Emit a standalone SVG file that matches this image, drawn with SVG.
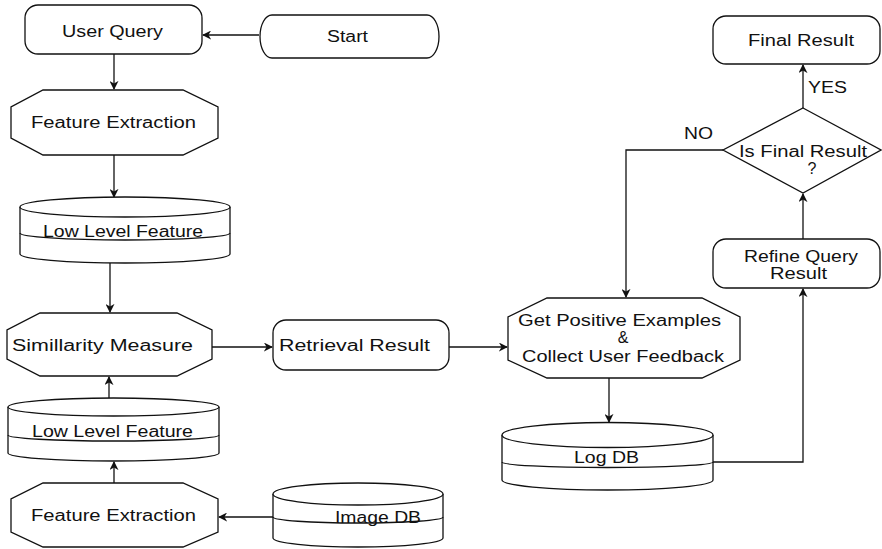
<svg xmlns="http://www.w3.org/2000/svg" width="882" height="549" viewBox="0 0 882 549">
<defs>
<marker id="ah" viewBox="0 0 10 10" refX="9" refY="5" markerWidth="9" markerHeight="9" markerUnits="userSpaceOnUse" orient="auto">
<path d="M0,0 L10,5 L0,10 L3,5 Z" fill="#111"/>
</marker>
<style>
.s{fill:#fff;stroke:#111;stroke-width:1.3}
.c{fill:none;stroke:#111;stroke-width:1.3}
.a{marker-end:url(#ah)}
text{font-family:"Liberation Sans",Arial,sans-serif;font-size:16px;fill:#111}
.m{text-anchor:middle}
</style>
</defs>
<rect width="882" height="549" fill="#fff"/>

<g id="connectors">
<path class="c a" d="M259,35 L203,35"/>
<path class="c a" d="M114,54 L114,89"/>
<path class="c a" d="M114,155 L114,197"/>
<path class="c a" d="M110,263 L110,312"/>
<path class="c a" d="M109,398 L109,377"/>
<path class="c a" d="M114,483 L114,462"/>
<path class="c a" d="M273,517 L219,517"/>
<path class="c a" d="M212,347 L272,347"/>
<path class="c a" d="M449,347 L507,347"/>
<path class="c a" d="M609,378 L609,422"/>
<path class="c a" d="M713,462 L803,462 L803,289"/>
<path class="c a" d="M803,239 L803,194"/>
<path class="c a" d="M803,108 L803,65"/>
<path class="c a" d="M723,150 L626,150 L626,297"/>
<text x="808" y="93" textLength="39" lengthAdjust="spacingAndGlyphs">YES</text>
<text x="684" y="139" textLength="29" lengthAdjust="spacingAndGlyphs">NO</text>
</g>

<g id="user-query">
<rect class="s" x="25" y="5" width="177" height="49" rx="13"/>
<text class="m" x="112.5" y="37" textLength="101" lengthAdjust="spacingAndGlyphs">User Query</text>
</g>

<g id="start">
<path class="s" d="M272,15 L427,15 A12,21.5 0 0 1 427,58 L272,58 A12,21.5 0 0 1 272,15 Z"/>
<text class="m" x="347.5" y="42" textLength="41" lengthAdjust="spacingAndGlyphs">Start</text>
</g>

<g id="feature-extraction-1">
<polygon class="s" points="43,90 183,90 218,107 218,138 183,155 43,155 11,138 11,107"/>
<text class="m" x="113.5" y="128" textLength="165" lengthAdjust="spacingAndGlyphs">Feature Extraction</text>
</g>

<g id="low-level-feature-1">
<path class="s" d="M20,207 L20,254 A105,9 0 0 0 230,254 L230,207"/>
<ellipse class="s" cx="125" cy="207" rx="105" ry="10"/>
<path class="c" d="M20,233 A105,7 0 0 0 230,233"/>
<text class="m" x="123" y="237" textLength="160" lengthAdjust="spacingAndGlyphs">Low Level Feature</text>
</g>

<g id="similarity-measure">
<polygon class="s" points="40,313 177,313 212,330 212,359 177,376 40,376 7,359 7,330"/>
<text class="m" x="102.5" y="351" textLength="181" lengthAdjust="spacingAndGlyphs">Simillarity Measure</text>
</g>

<g id="retrieval-result">
<rect class="s" x="273" y="320" width="176" height="50" rx="13"/>
<text class="m" x="354.5" y="351" textLength="151" lengthAdjust="spacingAndGlyphs">Retrieval Result</text>
</g>

<g id="low-level-feature-2">
<path class="s" d="M8,407 L8,453 A105.5,8 0 0 0 219,453 L219,407"/>
<ellipse class="s" cx="113.5" cy="407" rx="105.5" ry="9"/>
<path class="c" d="M8,435 A105.5,6 0 0 0 219,435"/>
<text class="m" x="112.5" y="437" textLength="161" lengthAdjust="spacingAndGlyphs">Low Level Feature</text>
</g>

<g id="feature-extraction-2">
<polygon class="s" points="43,483 183,483 218,499 218,532 183,547 43,547 11,532 11,499"/>
<text class="m" x="113.5" y="521" textLength="165" lengthAdjust="spacingAndGlyphs">Feature Extraction</text>
</g>

<g id="image-db">
<path class="s" d="M273,494 L273,538 A85,9 0 0 0 443,538 L443,494"/>
<ellipse class="s" cx="358" cy="494" rx="85" ry="11"/>
<path class="c" d="M273,517 A85,6 0 0 0 443,517"/>
<text class="m" x="378" y="523" textLength="86" lengthAdjust="spacingAndGlyphs">Image DB</text>
</g>

<g id="get-positive">
<polygon class="s" points="547,298 702,298 740,317 740,360 702,378 547,378 508,360 508,317"/>
<text class="m" x="619.5" y="326" textLength="203" lengthAdjust="spacingAndGlyphs">Get Positive Examples</text>
<text class="m" x="623" y="343">&amp;</text>
<text class="m" x="623" y="362" textLength="202" lengthAdjust="spacingAndGlyphs">Collect User Feedback</text>
</g>

<g id="log-db">
<path class="s" d="M502,435 L502,480 A105.5,10 0 0 0 713,480 L713,435"/>
<ellipse class="s" cx="607.5" cy="435" rx="105.5" ry="12.5"/>
<path class="c" d="M502,462 A105.5,5.5 0 0 0 713,462"/>
<text class="m" x="606.5" y="463" textLength="65" lengthAdjust="spacingAndGlyphs">Log DB</text>
</g>

<g id="refine-query">
<rect class="s" x="713" y="239" width="167" height="49" rx="13"/>
<text class="m" x="801" y="262" textLength="114" lengthAdjust="spacingAndGlyphs">Refine Query</text>
<text class="m" x="798.5" y="279" textLength="57" lengthAdjust="spacingAndGlyphs">Result</text>
</g>

<g id="is-final-result">
<polygon class="s" points="803,108 881,150 803,193 723,150"/>
<text class="m" x="803" y="157" textLength="128" lengthAdjust="spacingAndGlyphs">Is Final Result</text>
<text class="m" x="812" y="174">?</text>
</g>

<g id="final-result">
<rect class="s" x="713" y="16" width="167" height="48" rx="13"/>
<text class="m" x="801" y="46" textLength="106" lengthAdjust="spacingAndGlyphs">Final Result</text>
</g>
</svg>
